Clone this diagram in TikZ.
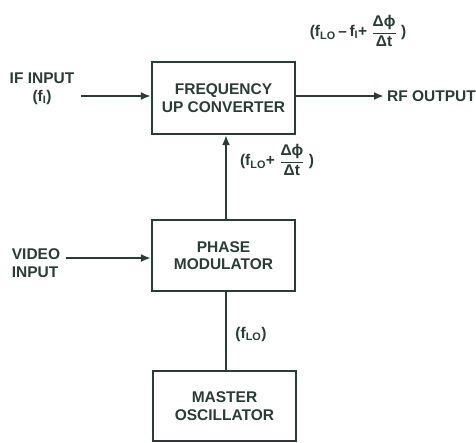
\documentclass[tikz,border=0pt]{standalone}
\usepackage{amsmath}
\usepackage{fontspec}
\setmainfont{Liberation Sans}
\usepackage{tikz}
\usetikzlibrary{positioning,arrows.meta}
\definecolor{ink}{HTML}{2B3B36}

\begin{document}
\begin{tikzpicture}[
    x=1pt, y=1pt,
    every node/.style={text=ink, font=\fontsize{15.5}{17.5}\selectfont\bfseries},
    block/.style={draw=ink, line width=2.2pt, minimum width=143pt, align=center},
    wire/.style={draw=ink, line width=2.2pt},
    feed/.style={wire, -{Latex[length=10pt,width=8pt]}},
    lbl/.style={align=center, inner sep=1pt},
  ]
  \useasboundingbox (0,0) rectangle (476,-442);
  % les trois blocs
  \node[block, minimum height=72pt] (conv) at (223.5,-98)   {FREQUENCY\\UP CONVERTER};
  \node[block, minimum height=71pt] (pmod) at (223.5,-255.5) {PHASE\\MODULATOR};
  \node[block, minimum height=70pt] (mosc) at (224.5,-406)  {MASTER\\OSCILLATOR};
  % entrees et sortie
  \node[lbl] (ifin) at (42,-89) {IF INPUT\\(f\textsubscript{I})};
  \node[lbl, align=left] (vidin) at (36,-263) {VIDEO\\INPUT};
  \node[lbl, anchor=west] (rfout) at (386,-96) {RF OUTPUT};
  \coordinate (ifend) at (81,-96);
  \coordinate (vidend) at (66,-258);
  \coordinate (rfend) at (384,-96);
  % frequences
  \node[lbl] (fout) at (358,-31) {(f\textsubscript{LO}\,--\,f\textsubscript{I}+\;\(\dfrac{\text{\bfseries Δϕ}}{\text{\bfseries Δt}}\) )};
  \node[lbl] (fmod) at (277,-160) {(f\textsubscript{LO}+\;\(\dfrac{\text{\bfseries Δϕ}}{\text{\bfseries Δt}}\) )};
  \node[lbl] (flo) at (251,-334) {(f\textsubscript{LO})};
  % liaisons
  \draw[feed] (ifend) -- (ifend -| conv.west);
  \draw[feed] (conv.east |- rfend) -- (rfend);
  \draw[feed] (vidend) -- (vidend -| pmod.west);
  \draw[feed] (pmod.north) ++(2.5,0) coordinate (pm2) -- (pm2 |- conv.south);
  \draw[wire] (mosc.north) ++(1.5,0) coordinate (mo2) -- (mo2 |- pmod.south);
\end{tikzpicture}
\end{document}
